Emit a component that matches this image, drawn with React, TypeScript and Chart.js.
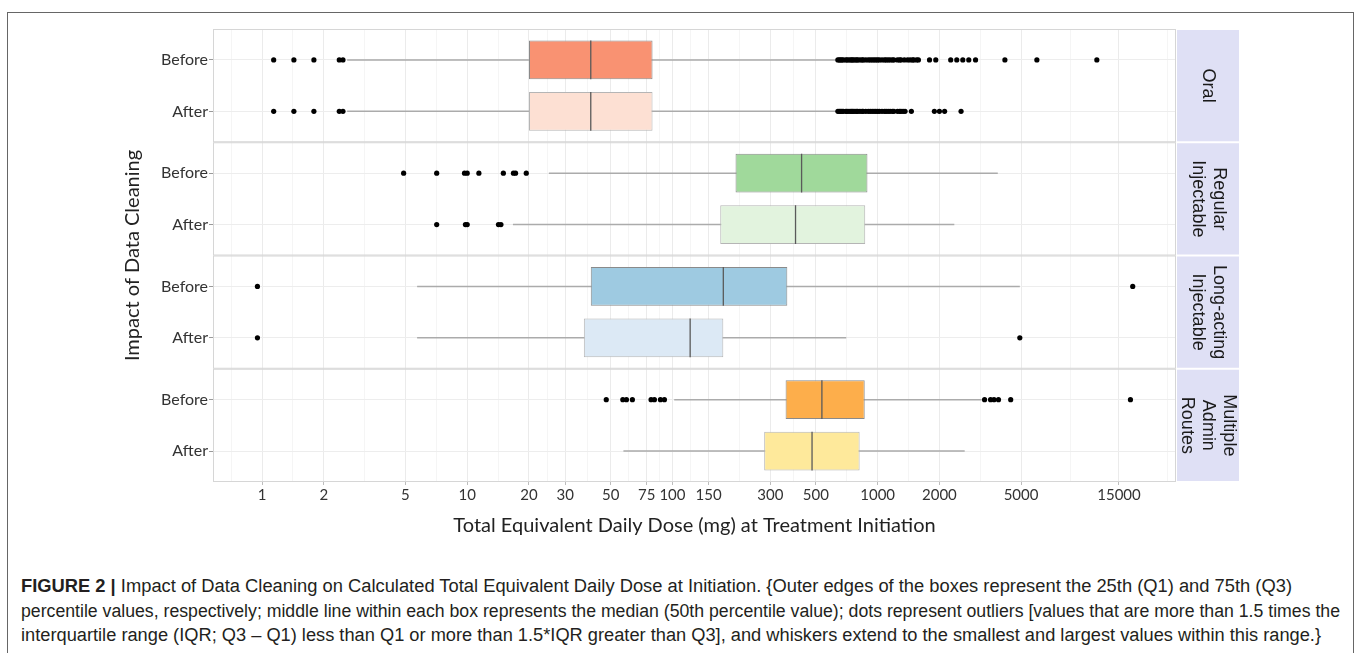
import React, { useEffect, useLayoutEffect, useRef } from 'react';
import { Chart, registerables } from 'chart.js';

Chart.register(...registerables);

// ---------- data ----------
const panels: string[][] = [['Oral'], ['Regular', 'Injectable'], ['Long-acting', 'Injectable'], ['Multiple', 'Admin', 'Routes']];
const groups = ['Before', 'After'];

// rows: Oral B, Oral A, Regular B, Regular A, LAI B, LAI A, Multi B, Multi A
const q1 = [20, 20, 203, 171, 40, 37, 356, 280];
const median = [40, 40, 426, 398, 177, 122, 535, 479];
const q3 = [80, 80, 892, 870, 363, 177, 865, 817];
const whiskerLow = [2.6, 2.6, 25, 16.7, 5.7, 5.7, 102, 57.7];
const whiskerHigh = [631, 631, 3850, 2364, 4930, 703, 3215, 2656];

const outliersOralBefore = [1.14, 1.43, 1.79, 2.38, 2.48,
  640, 650, 660, 670, 680, 700, 710, 725, 740, 750, 760, 775, 790, 800, 820, 840, 850, 875, 900, 920, 940, 960, 980,
  1000, 1020, 1050, 1080, 1100, 1125, 1150, 1180, 1200, 1250, 1280, 1300, 1350, 1400, 1440, 1480, 1500, 1550, 1580,
  1790, 1920, 2270, 2430, 2600, 2780, 3000, 4170, 5970, 11700];
const outliersOralAfter = [1.14, 1.43, 1.79, 2.38, 2.48,
  640, 650, 660, 670, 680, 700, 710, 725, 740, 750, 760, 775, 790, 800, 820, 840, 850, 875, 900, 920, 940, 960, 980,
  1000, 1020, 1050, 1080, 1100, 1125, 1150, 1180, 1200, 1250, 1280, 1300, 1330, 1360,
  1460, 1890, 2000, 2120, 2550];
const outliersRegularBefore = [4.9, 7.1, 9.7, 10.0, 11.4, 15.0, 16.8, 17.2, 19.4];
const outliersRegularAfter = [7.1, 9.8, 10.0, 14.2, 14.6];
const outliersLaiBefore = [0.95, 17500];
const outliersLaiAfter = [0.95, 4930];
const outliersMultiBefore = [47.6, 57.3, 59.7, 63.8, 78.7, 81.7, 87.4, 91.4, 3320, 3550, 3690, 3880, 4450, 17060];
const outliersMultiAfter: number[] = [];
const outlierRows = [outliersOralBefore, outliersOralAfter, outliersRegularBefore, outliersRegularAfter,
  outliersLaiBefore, outliersLaiAfter, outliersMultiBefore, outliersMultiAfter];

const majorTicks = [1, 2, 5, 10, 20, 30, 50, 75, 100, 150, 300, 500, 1000, 2000, 5000, 15000];
const minorTicks = [0.707, 1.414, 3.162, 7.071, 14.14, 24.49, 38.73, 61.24, 86.6, 122.5, 212.1, 387.3, 707.1, 1414, 3162, 8660, 25980];
const xMin = 0.577;
const xMax = 28440;

const captionLines = [
  'Impact of Data Cleaning on Calculated Total Equivalent Daily Dose at Initiation. {Outer edges of the boxes represent the 25th (Q1) and 75th (Q3)',
  'percentile values, respectively; middle line within each box represents the median (50th percentile value); dots represent outliers [values that are more than 1.5 times the',
  'interquartile range (IQR; Q3 – Q1) less than Q1 or more than 1.5*IQR greater than Q3], and whiskers extend to the smallest and largest values within this range.}',
];

// ---------- styles ----------
const captionWidths = [1271, 1319, 1300];
const captionTops = [575, 600, 624];
const boxFill = ['#f99272', '#fde0d3', '#a0d99b', '#e2f3de', '#9ecae1', '#dce9f5', '#fdae4b', '#fee99b'];
const boxBorder = ['#8a8a8a', '#b5b5b5', '#8a8a8a', '#b5b5b5', '#8a8a8a', '#b5b5b5', '#8a8a8a', '#b5b5b5'];
const panelSpan = 2.2;
const boxHalf = 0.375;
const LATO = 'Lato, "DejaVu Sans", sans-serif';

const rowPos: number[] = [];
panels.forEach((_, k) => groups.forEach((_, j) => rowPos.push(k * panelSpan + 0.6 + j)));
const majorSet = new Set(majorTicks);

const facetPlugin = {
  id: 'facets',
  afterDraw(chart: any) {
    const { ctx, chartArea, scales } = chart;
    const y = scales.y;
    ctx.save();
    panels.forEach((lines, k) => {
      const top = y.getPixelForValue(k * panelSpan);
      const bottom = y.getPixelForValue((k + 1) * panelSpan);
      ctx.strokeStyle = '#d6d6d6';
      ctx.lineWidth = 1;
      ctx.strokeRect(chartArea.left + 0.5, top + 0.5, chartArea.right - chartArea.left - 1, bottom - top - 1);
      ctx.fillStyle = '#dfe0f5';
      ctx.fillRect(chartArea.right + 1, top + 1, 62, bottom - top - 2);
      ctx.save();
      ctx.translate(chartArea.right + 32, (top + bottom) / 2);
      ctx.rotate(Math.PI / 2);
      ctx.fillStyle = '#1a1a1a';
      ctx.font = '18px "Liberation Sans", Arial, sans-serif';
      ctx.textAlign = 'center';
      ctx.textBaseline = 'middle';
      const lh = 21;
      lines.forEach((t, i) => ctx.fillText(t, 0, (i - (lines.length - 1) / 2) * lh));
      ctx.restore();
    });
    ctx.restore();
  },
};

export default function App() {
  const canvasRef = useRef<HTMLCanvasElement | null>(null);
  const lineRefs = useRef<(HTMLSpanElement | null)[]>([]);

  useLayoutEffect(() => {
    lineRefs.current.forEach((el, i) => {
      if (!el) return;
      el.style.transform = 'none';
      const w = el.getBoundingClientRect().width;
      if (w > 0) el.style.transform = `scaleX(${captionWidths[i] / w})`;
    });
  }, []);

  useEffect(() => {
    const whiskerData: any[] = [];
    const medianData: any[] = [];
    const outlierData: any[] = [];
    rowPos.forEach((r, i) => {
      whiskerData.push({ x: whiskerLow[i], y: r }, { x: whiskerHigh[i], y: r }, { x: null, y: null });
      medianData.push({ x: median[i], y: r - boxHalf }, { x: median[i], y: r + boxHalf }, { x: null, y: null });
      outlierRows[i].forEach((v) => outlierData.push({ x: v, y: r }));
    });

    const chart = new Chart(canvasRef.current as HTMLCanvasElement, {
      type: 'bar',
      data: {
        datasets: [
          {
            type: 'scatter',
            data: outlierData,
            backgroundColor: '#000',
            borderWidth: 0,
            pointRadius: 2.6,
            order: 0,
          } as any,
          {
            type: 'line',
            data: medianData,
            borderColor: '#5a5a5a',
            borderWidth: 1.3,
            pointRadius: 0,
            spanGaps: false,
            fill: false,
            order: 1,
          } as any,
          {
            type: 'bar',
            indexAxis: 'y',
            data: rowPos.map((r, i) => ({ y: r, x: [q1[i], q3[i]] })),
            backgroundColor: boxFill,
            borderColor: boxBorder,
            borderWidth: 1,
            borderSkipped: false,
            barPercentage: 0.75,
            categoryPercentage: 1,
            order: 2,
          } as any,
          {
            type: 'line',
            data: whiskerData,
            borderColor: '#ababab',
            borderWidth: 1.5,
            pointRadius: 0,
            spanGaps: false,
            fill: false,
            order: 3,
          } as any,
        ],
      },
      options: {
        responsive: false,
        animation: false,
        devicePixelRatio: 1,
        layout: { padding: { left: 118, right: 180, top: 29, bottom: 0 } },
        plugins: { legend: { display: false }, tooltip: { enabled: false } },
        scales: {
          x: {
            type: 'logarithmic',
            position: 'bottom',
            min: xMin,
            max: xMax,
            offset: false,
            afterBuildTicks: (scale: any) => {
              const all = [...majorTicks, ...minorTicks].sort((a, b) => a - b);
              scale.ticks = all.map((v) => ({ value: v }));
            },
            afterFit: (scale: any) => {
              scale.height = 64;
            },
            border: { display: false },
            grid: {
              offset: false,
              color: (c: any) => (c.tick && majorSet.has(c.tick.value) ? '#ebebeb' : '#f5f5f5'),
              tickColor: (c: any) => (c.tick && majorSet.has(c.tick.value) ? '#bdbdbd' : 'rgba(0,0,0,0)'),
              tickLength: 3,
              lineWidth: 1,
            },
            ticks: {
              autoSkip: false,
              maxRotation: 0,
              padding: 1,
              color: '#333',
              font: { family: LATO, size: 15 },
              callback: (v: any) => (majorSet.has(Number(v)) ? String(v) : ''),
            },
            title: {
              display: true,
              text: 'Total Equivalent Daily Dose (mg) at Treatment Initiation',
              color: '#222',
              font: { family: LATO, size: 20 },
              padding: { top: 0, bottom: 8 },
            },
          } as any,
          y: {
            type: 'linear',
            position: 'left',
            min: 0,
            max: panels.length * panelSpan,
            reverse: true,
            offset: false,
            afterBuildTicks: (scale: any) => {
              scale.ticks = rowPos.map((v) => ({ value: v }));
            },
            afterFit: (scale: any) => {
              scale.width = 95;
            },
            border: { display: false },
            grid: { offset: false, color: '#ededed', tickColor: '#9a9a9a', tickLength: 4 },
            ticks: {
              padding: 1,
              color: '#333',
              font: { family: LATO, size: 16 },
              callback: (_v: any, i: number) => groups[i % 2],
            },
            title: {
              display: true,
              text: 'Impact of Data Cleaning',
              color: '#222',
              font: { family: LATO, size: 20 },
              padding: { top: 3, bottom: 0 },
            },
          } as any,
        },
      } as any,
      plugins: [facetPlugin],
    });
    return () => chart.destroy();
  }, []);

  const capStyle: React.CSSProperties = {
    position: 'absolute',
    left: 21,
    display: 'inline-block',
    whiteSpace: 'nowrap',
    transformOrigin: '0 0',
    fontFamily: '"Liberation Sans Narrow", "Arial Narrow", "Liberation Sans", Arial, sans-serif',
    fontSize: 18,
    color: '#231f20',
    lineHeight: '22px',
  };

  return (
    <div style={{ position: 'absolute', left: 0, top: 0, width: 1356, height: 653, overflow: 'hidden', background: '#fff' }}>
      <div style={{ position: 'absolute', left: 7, top: 12, width: 1345, height: 700, border: '1px solid #666' }} />
      <canvas ref={canvasRef} width={1356} height={546} style={{ position: 'absolute', left: 0, top: 0 }} />
      {captionLines.map((line, i) => (
        <span key={i} ref={(el) => { lineRefs.current[i] = el; }} style={{ ...capStyle, top: captionTops[i] }}>
          {i === 0 ? <b>FIGURE 2 | </b> : null}
          {line}
        </span>
      ))}
    </div>
  );
}
